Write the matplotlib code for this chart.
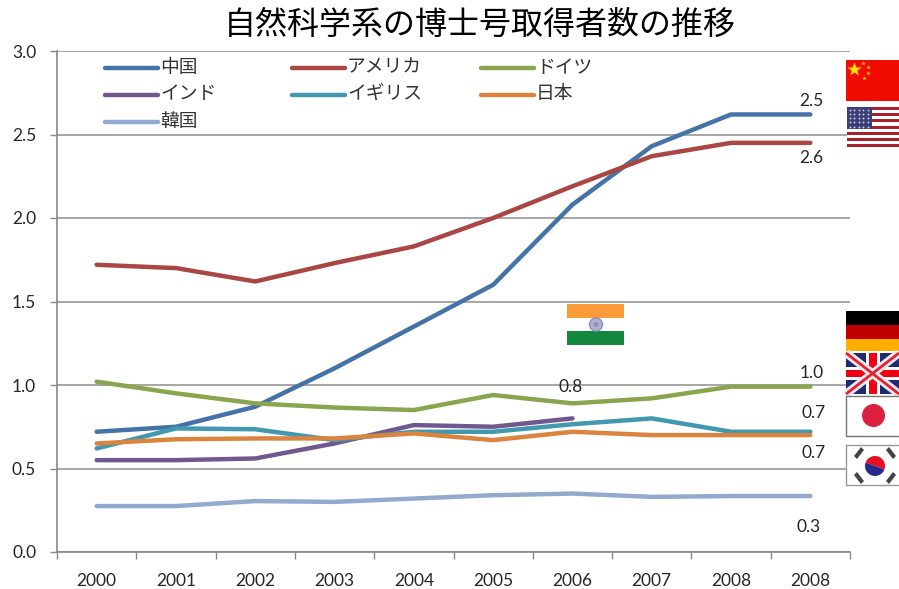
#!/usr/bin/env python3

import matplotlib
matplotlib.use('Agg')
import matplotlib.pyplot as plt
from matplotlib.patches import Rectangle, Circle, Wedge, Polygon

plt.rcParams['font.family'] = ['Noto Sans CJK JP', 'DejaVu Sans']

years = ['2000', '2001', '2002', '2003', '2004', '2005', '2006', '2007', '2008', '2008']
china = [0.72, 0.75, 0.87, 1.10, 1.35, 1.60, 2.08, 2.43, 2.62, 2.62]
usa = [1.72, 1.70, 1.62, 1.73, 1.83, 2.00, 2.19, 2.37, 2.45, 2.45]
germany = [1.02, 0.95, 0.89, 0.865, 0.85, 0.94, 0.89, 0.92, 0.99, 0.99]
india = [0.55, 0.55, 0.56, 0.65, 0.76, 0.75, 0.80]
uk = [0.62, 0.74, 0.735, 0.67, 0.72, 0.72, 0.765, 0.80, 0.72, 0.72]
japan = [0.65, 0.675, 0.68, 0.68, 0.71, 0.67, 0.72, 0.70, 0.70, 0.70]
korea = [0.275, 0.275, 0.305, 0.30, 0.32, 0.34, 0.35, 0.33, 0.335, 0.335]

names = ['中国', 'アメリカ', 'ドイツ', 'インド', 'イギリス', '日本', '韓国']
series = [china, usa, germany, india, uk, japan, korea]
colors = ['#4572a7', '#aa4643', '#89a54e', '#71588f', '#4198af', '#db843d', '#93a9cf']

W, H = 899, 589
fig = plt.figure(figsize=(W / 100, H / 100), dpi=100, facecolor='white')
ax = fig.add_axes([57 / W, 1 - 552 / H, (850 - 57) / W, (552 - 51) / H])

for vals, c in zip(series, colors):
    ax.plot(range(len(vals)), vals, color=c, lw=3.2, solid_capstyle='round', zorder=3)

ax.set_xlim(-0.5, 9.5)
ax.set_ylim(0, 3)
ax.set_yticks([0, 0.5, 1, 1.5, 2, 2.5, 3])
ax.set_yticklabels(['0.0', '0.5', '1.0', '1.5', '2.0', '2.5', '3.0'], fontsize=12.5, color='#262626', family='Lato')
ax.set_xticks(range(10))
ax.set_xticklabels(years, fontsize=12.5, color='#262626', family='Lato')
ax.set_xticks([i - 0.5 for i in range(11)], minor=True)
ax.tick_params(axis='x', which='major', length=0, pad=15)
ax.tick_params(axis='x', which='minor', length=5, width=1, color='#888888')
ax.tick_params(axis='y', length=5, width=1, color='#888888', pad=10)
ax.grid(axis='y', color='#a6a6a6', lw=1.4)
ax.set_axisbelow(True)
for s in ['top', 'right']:
    ax.spines[s].set_visible(False)
for s in ['left', 'bottom']:
    ax.spines[s].set_color('#888888')
    ax.spines[s].set_linewidth(1.2)

# value labels
lab = dict(fontsize=12.5, color='#262626', ha='center', va='center', family='Lato')
ov = fig.add_axes([0, 0, 1, 1], facecolor='none')
ov.set_xlim(0, W)
ov.set_ylim(H, 0)
ov.axis('off')
ov.text(811, 101, '2.5', **lab)
ov.text(811, 158, '2.6', **lab)
ov.text(571, 387, '0.8', **lab)
ov.text(812, 373, '1.0', **lab)
ov.text(814, 413, '0.7', **lab)
ov.text(814, 453, '0.7', **lab)
ov.text(809, 527, '0.3', **lab)

ov.text(480, 25, '自然科学系の博士号取得者数の推移', fontsize=23, ha='center', va='center', color='black')

leg_x = [105, 292, 481]
leg_y = [68, 95, 122]
for i, (n, c) in enumerate(zip(names, colors)):
    x = leg_x[i % 3]
    y = leg_y[i // 3]
    ov.plot([x, x + 53], [y, y], color=c, lw=3.2, solid_capstyle='round')
    ov.text(x + 55, y - 1, n, fontsize=13.5, va='center', ha='left', color='#333333')


def rect(x, y, w, h, c, **kw):
    ov.add_patch(Rectangle((x, y), w, h, facecolor=c, edgecolor='none', **kw))


# China
rect(846, 60, 53, 41, '#f00c00')
ov.plot([853.5], [69], marker='*', ms=10, color='#ffe000', ls='none', mec='none')
ov.plot([863, 868, 868, 864], [63, 67, 73, 78], marker='*', ms=3.5, color='#ffc000', ls='none', mec='none')

# USA
rect(847, 107, 52, 41, 'white')
for i in range(7):
    rect(847, 107 + i * 6.2, 52, 3.1, '#a8202c')
rect(847, 107, 25, 22, '#3a3f78')
for i in range(5):
    ov.plot([849.5 + k * 4.6 for k in range(5)], [109.5 + i * 4.3] * 5, 'o', ms=1.4, color='#c8c8e0', ls='none', mec='none')

# India
rect(567, 304, 57, 14, '#fb9a38')
rect(567, 318, 57, 13, 'white')
rect(567, 331, 57, 14, '#15873f')
ov.add_patch(Circle((596, 324.5), 6.5, facecolor='#b0b0d0', edgecolor='#8f8fb8', lw=1))
ov.add_patch(Circle((596, 324.5), 2.5, facecolor='#8f8fb8', edgecolor='none'))

# Germany
rect(846, 311, 53, 14, 'black')
rect(846, 325, 53, 14, '#c00000')
rect(846, 339, 53, 12, '#ffae00')

# UK
rect(846, 353, 53, 41, '#1f2a70')
ov.plot([846, 899], [353, 394], color='#e8e8f0', lw=6, solid_capstyle='butt')
ov.plot([846, 899], [394, 353], color='#e8e8f0', lw=6, solid_capstyle='butt')
ov.plot([846, 899], [353, 394], color='#e8202c', lw=2, solid_capstyle='butt')
ov.plot([846, 899], [394, 353], color='#e8202c', lw=2, solid_capstyle='butt')
rect(866, 353, 14, 41, 'white')
rect(846, 367, 53, 13, 'white')
rect(869, 353, 8, 41, '#f00010')
rect(846, 370, 53, 7, '#f00010')

# Japan
rect(846, 396, 53, 40, 'white')
ov.plot([846, 846, 899], [396, 436, 436], color='#777777', lw=1)
ov.plot([846, 899], [396, 396], color='#777777', lw=1)
ov.add_patch(Circle((873.5, 415.5), 11.5, facecolor='#dc2040', edgecolor='none'))

# Korea
rect(846, 445, 53, 40, 'white')
ov.plot([846, 846, 899], [445, 485, 485], color='#999999', lw=1)
ov.plot([846, 899], [445, 445], color='#999999', lw=1)
ov.add_patch(Wedge((875, 466), 10, 200, 20, facecolor='#e81020', edgecolor='none'))
ov.add_patch(Wedge((875, 466), 10, 20, 200, facecolor='#28288c', edgecolor='none'))
for px, py in [(859, 453), (891, 453), (859, 478), (891, 478)]:
    ang = 1 if (px < 875) == (py < 466) else -1
    ov.add_patch(Polygon([(px - 5, py + 3 * ang), (px - 2, py + 6 * ang), (px + 5, py - 3 * ang), (px + 2, py - 6 * ang)],
                         facecolor='#444444', edgecolor='none'))

fig.savefig('out.png', dpi=100, facecolor='white')
